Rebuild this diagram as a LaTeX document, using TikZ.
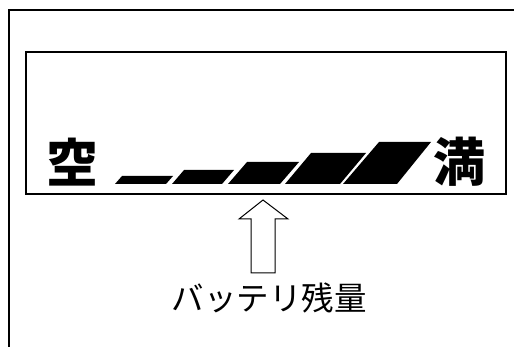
\documentclass[tikz,border=0pt]{standalone}
\usepackage{fontspec}
\newfontfamily\cjk{Noto Sans CJK JP}
\begin{document}
\begin{tikzpicture}[x=1pt,y=-1pt,
  lcdbox/.style={draw, line width=2.4pt, inner sep=0pt, anchor=north west},
  segbar/.style={fill=black},
  bigchar/.style={font=\cjk\bfseries\fontsize{52}{52}\selectfont, inner sep=0pt},
  labeltext/.style={font=\cjk\fontsize{32.5}{32.5}\selectfont, inner sep=0pt},
  blockarrow/.style={draw=black, fill=white, line width=1pt, line join=miter}]
\useasboundingbox (0,0) rectangle (514,347);
% outer frame (partly outside the picture)
\draw[line width=1.6pt] (9,347) -- (9,10) -- (514,10);
% LCD panel
\node[lcdbox, minimum width=480pt, minimum height=142pt] (lcd) at (25,51) {};
% level segments
\fill[segbar] (115,184) -- (166,184) -- (173,176) -- (122,176) -- cycle;
\fill[segbar] (172,184) -- (222,184) -- (234,170) -- (184,170) -- cycle;
\fill[segbar] (228,184) -- (280,184) -- (299,162) -- (247,162) -- cycle;
\fill[segbar] (285,184) -- (340,184) -- (366,153) -- (311,153) -- cycle;
\fill[segbar] (343,184) -- (397,184) -- (431,142) -- (379,142) -- cycle;
% end labels
\node[bigchar] (empty) at (72,162) {空};
\node[bigchar] (full) at (459,162) {満};
% label
\node[labeltext] (lbl) at (269,298) {バッテリ残量};
% block arrow from label up to panel
\coordinate (tip) at (263,200);
\draw[blockarrow] (tip) -- (288,219) -- (275,219) -- (275,273) -- (251,273) -- (251,219) -- (239,219) -- cycle;
\end{tikzpicture}
\end{document}
